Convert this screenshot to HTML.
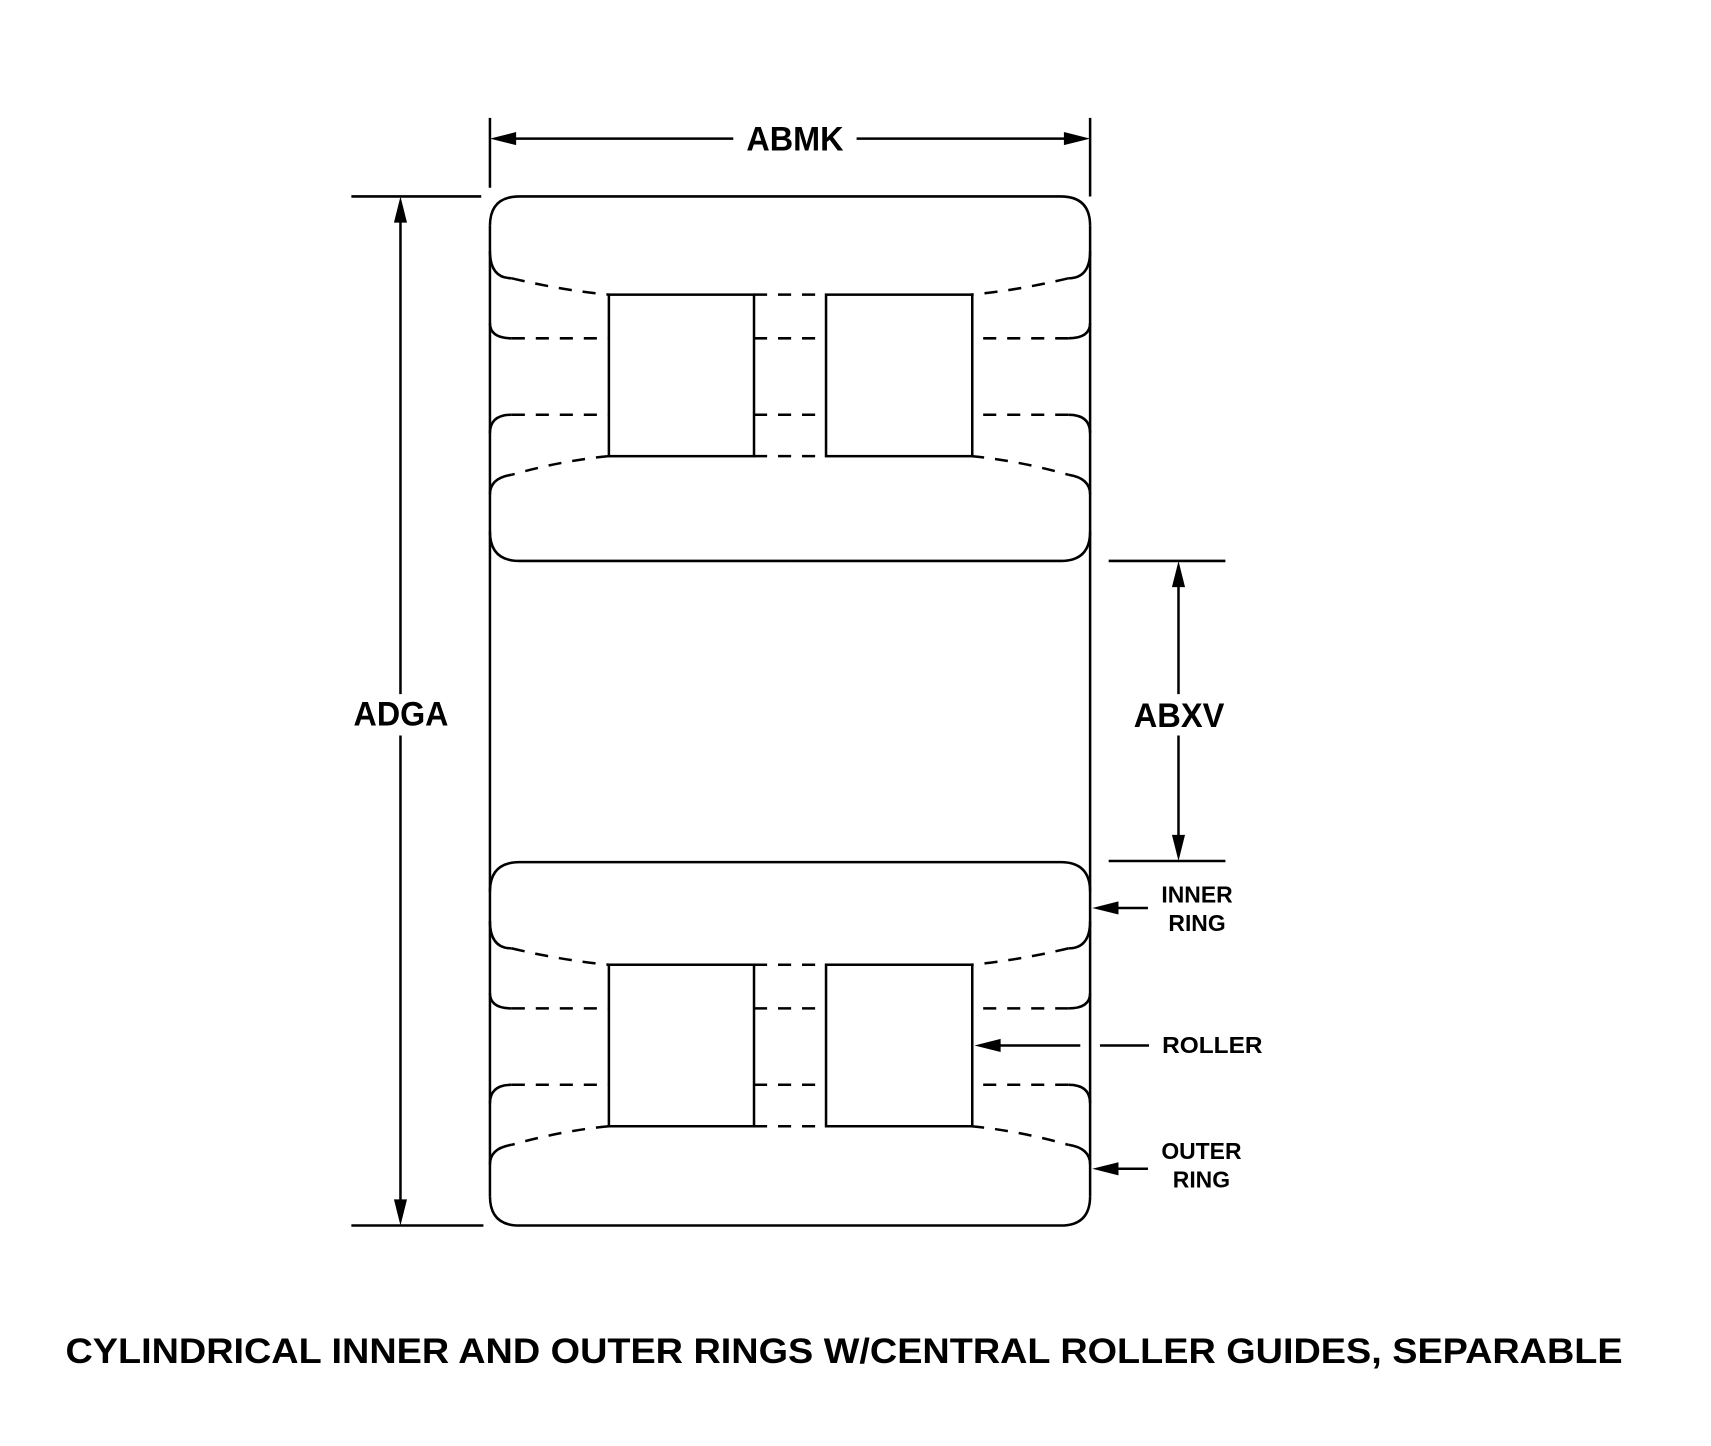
<!DOCTYPE html>
<html><head><meta charset="utf-8"><style>
html,body{margin:0;padding:0;background:#fff;}
svg{display:block;}
text{font-family:"Liberation Sans",Arial,sans-serif;font-weight:bold;fill:#000;}
</style></head><body>
<svg width="1711" height="1446" viewBox="0 0 1568 1325" preserveAspectRatio="none" xmlns="http://www.w3.org/2000/svg">
<defs>
<g id="half" fill="none" stroke="#000" stroke-width="2.3">
  <path d="M449,207 L449,1096"/>
  <path d="M449,207 Q449,180 476,180 L724,180"/>
  <path d="M449,230 Q449,255 469,255"/>
  <path d="M469,255 Q515,266 558,270" stroke-dasharray="12,10"/>
  <path d="M449,296 Q449,310 469,310"/>
  <path d="M469,310 L558,310" stroke-dasharray="12,10"/>
  <path d="M469,380 Q449,380 449,397"/>
  <path d="M469,380 L558,380" stroke-dasharray="12,10"/>
  <path d="M558,418 Q515,422 469,435" stroke-dasharray="12,10"/>
  <path d="M469,435 Q449,438 449,453"/>
  <path d="M449,487 Q449,514 476,514 L724,514"/>
  <path d="M449,817 Q449,790 476,790 L724,790"/>
  <path d="M449,844 Q449,869 469,869"/>
  <path d="M469,869 Q515,880 558,884" stroke-dasharray="12,10"/>
  <path d="M449,910 Q449,924 469,924"/>
  <path d="M469,924 L558,924" stroke-dasharray="12,10"/>
  <path d="M469,994 Q449,994 449,1011"/>
  <path d="M469,994 L558,994" stroke-dasharray="12,10"/>
  <path d="M558,1032 Q515,1036 469,1049" stroke-dasharray="12,10"/>
  <path d="M469,1049 Q449,1052 449,1067"/>
  <path d="M449,1096 Q449,1123 476,1123 L724,1123"/>
</g>
</defs>
<use href="#half"/>
<use href="#half" transform="matrix(-1 0 0 1 1448 0)"/>

<g fill="none" stroke="#000" stroke-width="2.3">
  <rect x="558" y="270" width="133" height="148"/>
  <rect x="757" y="270" width="134" height="148"/>
  <rect x="558" y="884" width="133" height="148"/>
  <rect x="757" y="884" width="134" height="148"/>
  <g stroke-dasharray="12,10">
    <path d="M691,270 L757,270 M691,310 L757,310 M691,380 L757,380 M691,418 L757,418"/>
    <path d="M691,884 L757,884 M691,924 L757,924 M691,994 L757,994 M691,1032 L757,1032"/>
  </g>
  <path d="M449,108 L449,172 M999,108 L999,180"/>
  <path d="M470,127 L672,127 M785,127 L978,127"/>
  <path d="M322,180 L441,180 M322,1123 L443,1123"/>
  <path d="M367,200 L367,636 M367,674 L367,1103"/>
  <path d="M1016,514 L1123,514 M1016,789 L1123,789"/>
  <path d="M1080,534 L1080,636 M1080,674 L1080,769"/>
  <path d="M1020,832 L1052,832"/>
  <path d="M912,958 L990,958 M1008,958 L1053,958"/>
  <path d="M1020,1071 L1052,1071"/>
</g>
<g fill="#000">
  <polygon points="449,127 473,121 473,133"/>
  <polygon points="999,127 975,121 975,133"/>
  <polygon points="367,180 361,204 373,204"/>
  <polygon points="367,1123 361,1099 373,1099"/>
  <polygon points="1080,514 1074,538 1086,538"/>
  <polygon points="1080,789 1074,765 1086,765"/>
  <polygon points="1001,832 1025,826 1025,838"/>
  <polygon points="893,958 917,952 917,964"/>
  <polygon points="1001,1071 1025,1065 1025,1077"/>
</g>
<text x="684" y="138" font-size="31" textLength="89" lengthAdjust="spacingAndGlyphs">ABMK</text>
<text x="324" y="665" font-size="31" textLength="87" lengthAdjust="spacingAndGlyphs">ADGA</text>
<text x="1039" y="666" font-size="31" textLength="83" lengthAdjust="spacingAndGlyphs">ABXV</text>
<text x="1097" y="827" font-size="21" text-anchor="middle">INNER</text>
<text x="1097" y="853" font-size="21" text-anchor="middle">RING</text>
<text x="1065" y="965" font-size="21" textLength="92" lengthAdjust="spacingAndGlyphs">ROLLER</text>
<text x="1101" y="1062" font-size="21" text-anchor="middle">OUTER</text>
<text x="1101" y="1088" font-size="21" text-anchor="middle">RING</text>
<text x="60" y="1249" font-size="32" textLength="1427" lengthAdjust="spacingAndGlyphs">CYLINDRICAL INNER AND OUTER RINGS W/CENTRAL ROLLER GUIDES, SEPARABLE</text>
</svg>
</body></html>
